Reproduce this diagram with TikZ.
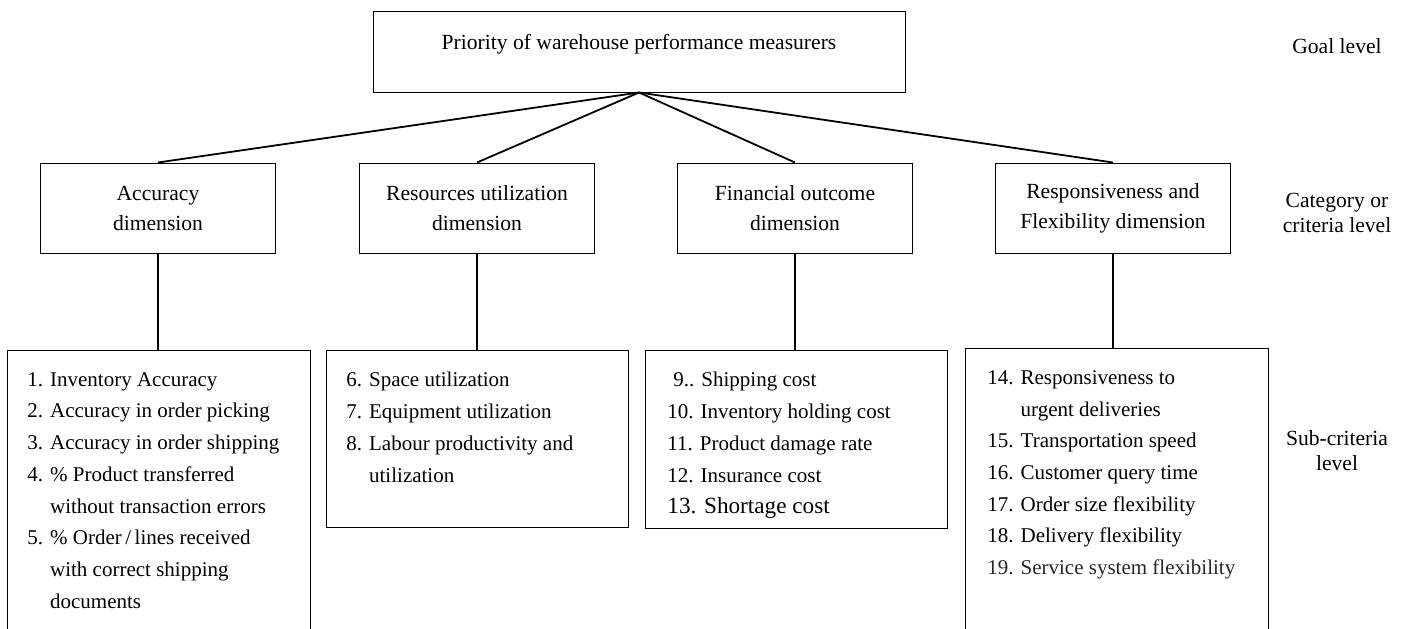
\documentclass[tikz,border=0pt]{standalone}
\usepackage{fontspec}
\setmainfont{Liberation Serif}
\usetikzlibrary{positioning}

\begin{document}
\begin{tikzpicture}[x=0.5pt, y=-0.5pt,
  goalbox/.style={draw=black, line width=0.5pt, minimum width=266pt,
                  minimum height=40.5pt, inner sep=0pt},
  catbox/.style={draw=black, line width=0.5pt, minimum width=117.5pt,
                 minimum height=45pt, inner sep=0pt, align=center,
                 font=\fontsize{10.8}{15}\selectfont},
  subbox/.style={draw=black, line width=0.5pt, minimum width=151.5pt, inner sep=0pt},
  items/.style={anchor=north west, align=left, inner sep=0pt,
                font=\fontsize{10.5}{15.85}\selectfont},
  lvl/.style={align=center, inner sep=0pt, font=\fontsize{10.8}{12.5}\selectfont},
  link/.style={line width=0.9pt, black},
]
\useasboundingbox (0,0) rectangle (1412,628);
\clip (0,0) rectangle (1412,628);

% ---- goal ----
\node[goalbox] (goal) at (639,51.5) {};
\node[lvl] (goaltxt) at (639,44) {Priority of warehouse performance measurers};

% ---- criteria, hung from the goal ----
\foreach \n/\cx/\t in {acc/158/{Accuracy\\dimension},
                       res/477/{Resources utilization\\dimension},
                       fin/795/{Financial outcome\\dimension},
                       rsp/1113/{Responsiveness and\\Flexibility dimension}} {
  \node[catbox] (\n) at (\cx,208) {\t};
  \draw[link] (goal.south) -- (\n.north);
}

% ---- sub-criteria boxes (outer two run off the page) ----
\node[subbox, minimum height=165pt] (sacc) at (158.5,515) {};
\node[subbox, minimum width=151pt, minimum height=88.5pt] (sres) at (477,438.5) {};
\node[subbox, minimum width=151pt, minimum height=89pt] (sfin) at (796,439) {};
\node[subbox, minimum height=166pt] (srsp) at (1116.5,514) {};
\foreach \n in {acc,res,fin,rsp}
  \draw[link] (\n.south) -- (\n.south |- s\n.north);

\node[items] (lacc) at (27,372) {1. Inventory Accuracy\\2. Accuracy in order picking\\
  3. Accuracy in order shipping\\4. \% Product transferred\\
  \phantom{4. }without transaction errors\\5. \% Order\,/\,lines received\\
  \phantom{5. }with correct shipping\\\phantom{5. }documents};
\node[items] (lres) at (346,372) {6. Space utilization\\7. Equipment utilization\\
  8. Labour productivity and\\\phantom{8. }utilization};
\node[items] (lfin) at (667,372) {\hspace*{3pt}9.. Shipping cost\\10. Inventory holding cost\\
  11. Product damage rate\\12. Insurance cost\\
  {\fontsize{11.6}{15.85}\selectfont 13. Shortage cost}};
\node[items] (lrsp) at (987,370) {14. Responsiveness to\\\phantom{14. }urgent deliveries\\
  15. Transportation speed\\16. Customer query time\\17. Order size flexibility\\
  18. Delivery flexibility\\{\color{black!85}19. Service system flexibility}};

% ---- level labels ----
\node[lvl] (lgoal) at (1337,46) {Goal level};
\node[lvl] (lcat) at (1337,213) {Category or\\criteria level};
\node[lvl] (lsub) at (1337,451) {Sub-criteria\\level};

\end{tikzpicture}
\end{document}
